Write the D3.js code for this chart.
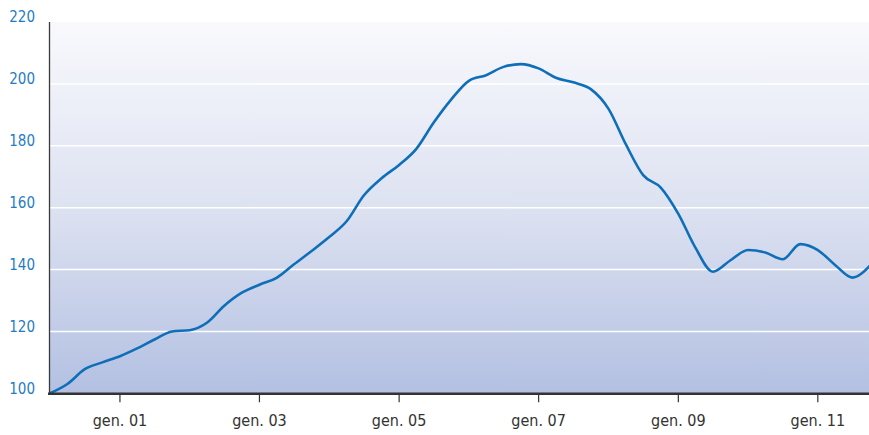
<!DOCTYPE html>
<html>
<head>
<meta charset="utf-8">
<script src="https://cdn.jsdelivr.net/npm/d3@7"></script>
<style>
  body { margin: 0; background: #fff; }
  svg { display: block; }
  .ylab { font-family: "DejaVu Sans Condensed", "DejaVu Sans", sans-serif; font-size: 15px; fill: #1f7cc4; }
  .xlab { font-family: "DejaVu Sans Condensed", "DejaVu Sans", sans-serif; font-size: 16px; fill: #333; }
</style>
</head>
<body>
<div class="wrap-chart"></div>
<script>
var
  width = 869,
  height = 435,
  margin = { top: 22, right: 0, bottom: 41, left: 50 };

// quarterly readings, Jan 2000 .. Oct 2011
var startYear = 2000;
var values = [
  100, 103, 107.8, 110, 112, 114.5, 117.4, 120, 120.4, 122.8,
  128.3, 132.5, 135.1, 137.3, 141.7, 146, 150.5, 155.6, 164, 169.5,
  173.8, 179, 187.5, 195, 201, 202.8, 205.5, 206.4, 205, 202,
  200.5, 198.3, 192, 180.5, 170.5, 166.5, 158, 147, 139.3, 143,
  146.3, 145.5, 143.3, 148.2, 146.3, 141.5, 137.4, 141.3
];
var yTicks = [100, 120, 140, 160, 180, 200, 220];
var xTickYears = [2001, 2003, 2005, 2007, 2009, 2011];

var data = values.map(function (v, i) {
  return { date: new Date(startYear, i * 3, 1), value: v };
});

var x = d3.scaleTime()
  .domain([new Date(2000, 0, 1), new Date(2011, 9, 1)])
  .range([margin.left, width - margin.right + 1]);

var y = d3.scaleLinear()
  .domain([100, 220])
  .range([height - margin.bottom - 0.7, margin.top]);

var svg = d3.select(".wrap-chart")
  .append("svg")
  .attr("width", width)
  .attr("height", height);

var grad = svg.append("defs").append("linearGradient")
  .attr("id", "bg")
  .attr("x1", 0).attr("y1", 0).attr("x2", 0).attr("y2", 1);
grad.append("stop").attr("offset", "0%").attr("stop-color", "#f9f9fd");
grad.append("stop").attr("offset", "50%").attr("stop-color", "#dde2f1");
grad.append("stop").attr("offset", "100%").attr("stop-color", "#b3c0e2");

svg.append("rect")
  .attr("x", margin.left)
  .attr("y", margin.top)
  .attr("width", width - margin.left)
  .attr("height", y(100) - margin.top)
  .attr("fill", "url(#bg)");

// gridlines
svg.selectAll(".grid")
  .data(yTicks.filter(function (d) { return d > 100 && d < 220; }))
  .enter().append("line")
  .attr("class", "grid")
  .attr("x1", margin.left).attr("x2", width)
  .attr("y1", function (d) { return y(d); })
  .attr("y2", function (d) { return y(d); })
  .attr("stroke", "#fff")
  .attr("stroke-width", 1.5);

// y labels
svg.selectAll(".ylab")
  .data(yTicks).enter()
  .append("text")
  .attr("class", "ylab")
  .attr("x", 35)
  .attr("y", function (d) { return y(d) - 5; })
  .attr("dy", "0.35em")
  .attr("text-anchor", "end")
  .text(function (d) { return d; });

// line
var line = d3.line()
  .x(function (d) { return x(d.date); })
  .y(function (d) { return y(d.value); })
  .curve(d3.curveMonotoneX);

svg.append("path")
  .datum(data)
  .attr("fill", "none")
  .attr("stroke", "#0e6fb8")
  .attr("stroke-width", 2.6)
  .attr("stroke-linejoin", "round")
  .attr("d", line);

// axes lines
svg.append("line")
  .attr("x1", 49.5).attr("x2", 49.5)
  .attr("y1", margin.top).attr("y2", y(100) + 1)
  .attr("stroke", "#3a3a3a").attr("stroke-width", 1.3);

svg.append("line")
  .attr("x1", 48).attr("x2", width)
  .attr("y1", y(100) + 0.5).attr("y2", y(100) + 0.5)
  .attr("stroke", "#333").attr("stroke-width", 2.4);

// x ticks + labels
var xt = svg.selectAll(".xtick")
  .data(xTickYears).enter()
  .append("g")
  .attr("transform", function (d) {
    return "translate(" + x(new Date(d, 0, 1)) + ",0)";
  });

xt.append("line")
  .attr("y1", y(100)).attr("y2", y(100) + 9)
  .attr("stroke", "#333").attr("stroke-width", 1.2);

xt.append("text")
  .attr("class", "xlab")
  .attr("y", 420)
  .attr("dy", "0.35em")
  .attr("text-anchor", "middle")
  .text(function (d) { return "gen. " + String(d % 100).padStart(2, "0"); });
</script>
</body>
</html>
